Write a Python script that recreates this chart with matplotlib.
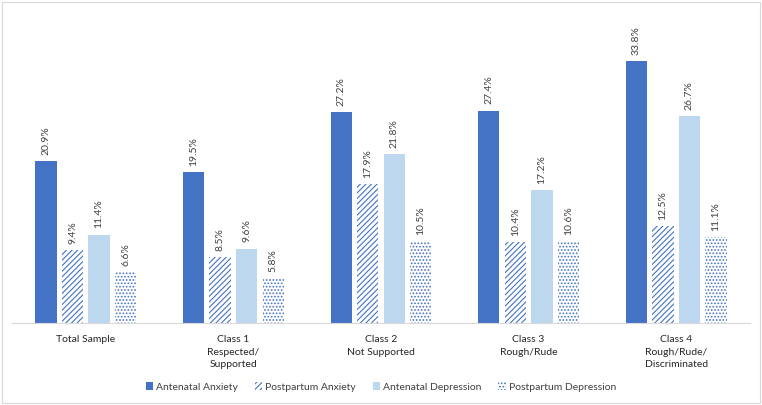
import matplotlib.pyplot as plt
import numpy as np
from matplotlib.patches import Rectangle

plt.rcParams['font.family'] = ['Lato', 'DejaVu Sans']
plt.rcParams['hatch.linewidth'] = 0.8

# dados
grupos = ["Total Sample", "Class 1\nRespected/\nSupported", "Class 2\nNot Supported",
          "Class 3\nRough/Rude", "Class 4\nRough/Rude/\nDiscriminated"]
series = ["Antenatal Anxiety", "Postpartum Anxiety", "Antenatal Depression", "Postpartum Depression"]
antenatal_ansiedade = [20.9, 19.5, 27.2, 27.4, 33.8]
pos_parto_ansiedade = [9.4, 8.5, 17.9, 10.4, 12.5]
antenatal_depressao = [11.4, 9.6, 21.8, 17.2, 26.7]
pos_parto_depressao = [6.6, 5.8, 10.5, 10.6, 11.1]

valores = [antenatal_ansiedade, pos_parto_ansiedade, antenatal_depressao, pos_parto_depressao]
azul = '#4472C4'
estilos = [
    dict(color=azul),
    dict(facecolor='white', edgecolor=azul, hatch='//////', linewidth=0),
    dict(color='#BDD7EE'),
    dict(facecolor='white', edgecolor=azul, hatch='.....', linewidth=0),
]

fig = plt.figure(figsize=(7.62, 4.05), dpi=100)
ax = fig.add_axes([12 / 762, 82 / 405, 738 / 762, 310 / 405])

x = np.arange(len(grupos))
passo = 0.18
for i, (vals, est) in enumerate(zip(valores, estilos)):
    pos = x + (i - 1.5) * passo
    ax.bar(pos, vals, width=passo * 0.8, label=series[i], **est)
    for p, v in zip(pos, vals):
        ax.text(p, v + 0.8, f"{v:.1f}%", rotation=90, ha='center', va='bottom',
                fontsize=7.5, color='#404040')

ax.set_xlim(-0.5, len(grupos) - 0.5)
ax.set_ylim(0, 40)
ax.set_yticks([])
ax.set_xticks(x)
ax.set_xticklabels(grupos, fontsize=7.5, color='#262626', linespacing=1.45)
ax.tick_params(axis='x', length=0, pad=9)
for s in ['top', 'right', 'left']:
    ax.spines[s].set_visible(False)
ax.spines['bottom'].set_color('#D9D9D9')

fig.legend(loc='center', bbox_to_anchor=(0.5, 18 / 405), ncol=4, frameon=False,
           fontsize=7.5, handlelength=0.7, handleheight=0.7, handletextpad=0.3,
           columnspacing=1.6, labelcolor='#404040')

fig.patches.append(Rectangle((0.002, 0.004), 0.996, 0.992, transform=fig.transFigure,
                             fill=False, edgecolor='#D9D9D9', linewidth=0.8))

fig.savefig('out.png', dpi=100)
